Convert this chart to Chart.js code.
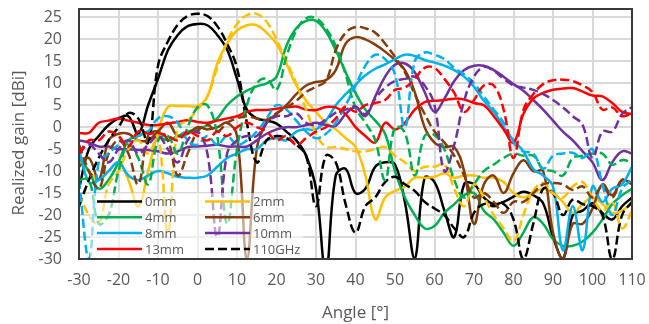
<!DOCTYPE html>
<html>
<head>
<meta charset="utf-8">
<script src="https://cdn.jsdelivr.net/npm/chart.js@4.4.1/dist/chart.umd.min.js"></script>
<style>
  html, body { margin: 0; padding: 0; background: #fff; }
  canvas { display: block; }
</style>
</head>
<body>
<canvas id="gainChart" width="649" height="324"></canvas>
<script>
// angles in degrees (x axis)
const angles = [-30, -27.5, -25, -22.5, -20, -17.5, -15, -12.5, -10, -7.5,
  -5, -2.5, 0, 2.5, 5, 7.5, 10, 12.5, 15, 17.5,
  20, 22.5, 25, 27.5, 30, 32.5, 35, 37.5, 40, 42.5,
  45, 47.5, 50, 52.5, 55, 57.5, 60, 62.5, 65, 67.5,
  70, 72.5, 75, 77.5, 80, 82.5, 85, 87.5, 90, 92.5,
  95, 97.5, 100, 102.5, 105, 107.5, 110];

// realized gain [dBi], solid = design frequency, *_110 = 110GHz (dashed)
const gain0mm = [-14, -5, -2, 0.5, 2, 2.5, -1.5, 5, 11, 17.5,
  21, 23, 23.5, 23.2, 21, 17.6, 11, 4, 2, 1.5,
  0.8, -1, -3, -6.5, -14, -33, -11, -9.5, -15, -14,
  -9, -8, -8.5, -17, -30, -11.5, -12.5, -19, -25, -13,
  -13, -16, -17.5, -17, -15.8, -14.7, -15.5, -17.3, -25, -30,
  -20, -19, -17.3, -19.5, -21, -18, -16];
const gain0mm_110 = [-18, -12, -7, -3, 0, 3.2, 2, -3.5, 14, 19.5,
  23.3, 25.3, 25.8, 25.3, 23, 19, 13.5, 1, -8, -3,
  -2, -2.5, -4, -6.5, -18, -6.5, -8, -17.5, -24, -18,
  -16, -12.5, -11.3, -13, -14.5, -17, -18.5, -20, -23, -25,
  -19.5, -17.5, -18, -17.5, -21, -30, -22, -14, -15, -20,
  -16.5, -17.5, -18, -20, -30, -20, -17];

const gain2mm = [-8, -10, -12, -10, -8, -12, -18, -10, -1, 4.6,
  4.8, 4.8, 4.8, 7, 14.5, 19, 22, 23.2, 23.2, 21.5,
  19, 14.5, 9.5, 6, 3.5, 1, -0.5, -2.5, -4.5, -11,
  -21, -16, -14.5, -13.5, -11.5, -11.5, -11.3, -10.5, -11.5, -11,
  -11, -11.5, -11.5, -12.5, -15, -16, -15, -14, -15, -17,
  -19.5, -17.5, -16, -17.5, -19.5, -19, -17];
const gain2mm_110 = [-15, -20, -22, -13, -10, -5, -3, -6, -2, -24,
  0, 1.5, 4, 7, 13.5, 19.5, 23.5, 25.5, 25.8, 24,
  20, 15, 10, 4, -1.5, -4.5, -4.5, -5, -5.5, -5.5,
  -5, -4.5, -6.5, -8, -10, -9, -9, -8.5, -14, -18,
  -13, -16, -20, -23, -26, -20, -14.5, -12.7, -15, -16,
  -13.5, -12.5, -16, -19, -17, -23, -19];

const gain4mm = [-7, -10, -14, -12, -8, -3, -2, -1, -2, -3,
  -2, -1, -0.5, 0.5, 2, 5, 7, 8.3, 9.3, 10,
  11.5, 18.5, 22.5, 24.2, 24.2, 21.8, 17.5, 12.5, 7.8, 4,
  1.5, -1.5, -10, -16, -20, -23, -22.5, -19.5, -17.5, -15.5,
  -15, -19, -21, -24, -27, -24, -20.5, -22, -25.5, -27,
  -27, -26, -24, -21, -17.5, -15.5, -14];
const gain4mm_110 = [-12, -12, -22, -20, -10, -4, -7, -13, -3, -2,
  -6, 0, 4.5, 5, -2, -22, -5, 5, 10, 11,
  8.5, 16, 22, 24.8, 24.8, 22.5, 18.5, 12, 4.5, 1,
  -3, -12, 0, -1.3, -11, -2, -1.8, -5, -12, -16,
  -13, -10, -8.5, -7, -6, -6.5, -6.5, -9.5, -10, -11,
  -7, -6.5, -6, -6, -8.5, -7.5, -8];

const gain6mm = [-9, -7, -12, -3, -1.5, -1.5, -3, -3, -1, 1,
  -2, -1.5, 0, -0.5, 0, 1, -2, -30, -5, 1,
  3, 5, 7.5, 9.5, 10.3, 10.7, 13, 19, 20.5, 20,
  18.8, 17.2, 15.3, 13, 8, 0, -3.5, -4.5, -4.5, -10,
  -22, -13, -11, -15, -10.5, -7.5, -10, -10, -24, -30,
  -22, -22, -18.5, -13, -15.5, -12, -13];
const gain6mm_110 = [-4, -10, -14, -6, -3, -6, -13, -2, -1, -3,
  -11, -6, -1, 0.5, -1, 1, 2, 2.5, 2, 1.7,
  3.2, 4.5, 6, 8, 9.2, 10.5, 17.5, 21.5, 22.8, 22.5,
  21.5, 19, 16, 12.5, 7.5, 3, -1, -3.5, -6.5, -11,
  -16, -15, -17, -19.5, -17, -17, -15, -13, -12.7, -13,
  -14.3, -13.5, -16, -13.5, -16, -12, -12.7];

const gain8mm = [-5, -12.5, -12, -10, -8, -11, -12, -11, -10, -10.5,
  -11.3, -11.5, -11.5, -11, -9, -7, -6, -5, -5, -3,
  -2.5, -3, -1, -0.5, -0.5, 1.5, 5, 7.5, 9.7, 11.8,
  13.3, 14.3, 15.5, 16.5, 16.2, 15.3, 14.7, 14, 13, 11.5,
  9.2, 6, 3.5, 0, -3, -5.5, -9.5, -11, -13.5, -28,
  -18, -28, -13.5, -17, -14, -13, -9];
const gain8mm_110 = [-12, -30, -8, -6, -4, -3, -2, -1, 2, 2.5,
  1, -3, -4, -2, -4, -2, -4, -3, -1, 2,
  5, 4, 1.5, -1, -2.5, -1.5, 1, 5, 9.5, 14,
  16.5, 15.5, 12, 0, 15, 17, 16.5, 15.5, 13.5, 12,
  10, 7, 4, 1, -3.5, -5.5, -6, -9.5, -6.5, -6,
  -5.8, -7, -5, -13, -20, -14, -12];

const gain10mm = [-3, -3.5, -4.4, -4.4, -5, -5, -5.2, -5.2, -5.5, -6,
  -5.5, -4.5, -4.4, -4.2, -4, -4.4, -4.4, -4.4, -3, -1.5,
  -0.5, 0, 0, 0.5, 1, 0.5, 0.3, 3, 4.5, 2.5,
  7, 11.5, 14.2, 14.5, 12.5, 8, 3.5, 6.5, 10.5, 13,
  14, 14, 13, 11.5, 9.8, 8.3, 6.2, 4, 1.5, -1,
  -3, -5.5, -8, -12, -8, -5.5, -6];
const gain10mm_110 = [-6, -4, -6, -8, -5, -3, -6, -4, -2, -5,
  -8, -3, -1, -6, -25, -6, -3, -2, -2, 1,
  2.5, 2.5, 3.2, 1, 0.5, 1.7, 3.3, 4, 4.7, 3,
  6.5, 9, 10.5, 11, 11.5, 9.5, 5, -10, -4, 6,
  11.5, 13.7, 12.8, 11, 9.5, 9, 8.5, 7.5, 6.2, 4.5,
  2.5, 0.5, -7, -1, -1, 3, 4.6];

const gain13mm = [-1.3, -1.3, 1, 1.5, 2, 1.5, 1, 0.5, 0.5, 0.8,
  1.2, 1.6, 1.2, 1, 1.5, 2, 2.5, 3.5, 3.9, 3.9,
  4.2, 4.5, 4.7, 4, 3.9, 4.6, 4.5, 3, 0, -2,
  -3.5, 1, -0.5, 1, 4, 5.7, 6, 6.2, 6.5, 6.3,
  5.5, 5, 2.5, -0.5, -3.5, 3, 6.5, 7.8, 8.5, 8.8,
  8.9, 8.1, 7.2, 7, 5.5, 3.5, 3];
const gain13mm_110 = [-6, -3, -3, -1, -2, -4.4, -1, -1.5, -1.3, -2,
  -3, -1, -2, -3, -1, -2, 0, 1, 0, -1,
  -3, -2, -4, -2.5, -1, 0, 2, 4.7, 3.5, 5,
  5.5, 6.2, 8.5, 9, 11, 13.5, 13.5, 11, 7.8, 3.5,
  6.2, 9.5, 9.5, 4, -7, 3.9, 7.5, 9.8, 10.7, 10.8,
  10.5, 9.5, 8, 4, 4.5, 2.5, 3.2];

const seriesNames = ['0mm', '2mm', '4mm', '6mm', '8mm', '10mm', '13mm'];
const seriesColors = ['#000000', '#FFC000', '#00B050', '#843C0C', '#00B0F0', '#7030A0', '#FF0000'];
const solidSeries = [gain0mm, gain2mm, gain4mm, gain6mm, gain8mm, gain10mm, gain13mm];
const dashedSeries = [gain0mm_110, gain2mm_110, gain4mm_110, gain6mm_110, gain8mm_110, gain10mm_110, gain13mm_110];
const dashedLabel = '110GHz';

const FONT = "'Open Sans', 'Noto Sans', sans-serif";
const TEXT = '#595959';
const DASH = [9, 4];

function toPoints(vals) {
  return angles.map((a, i) => ({ x: a, y: vals[i] }));
}

const datasets = [];
solidSeries.forEach((vals, i) => {
  datasets.push({ label: seriesNames[i], data: toPoints(vals), borderColor: seriesColors[i], borderDash: [] });
});
dashedSeries.forEach((vals, i) => {
  datasets.push({ label: seriesNames[i] + ' ' + dashedLabel, data: toPoints(vals), borderColor: seriesColors[i], borderDash: DASH });
});
// later series drawn on top (like Excel)
datasets.forEach((ds, i) => {
  ds.order = datasets.length - i;
  ds.borderWidth = 2.5;
  ds.pointRadius = 0;
  ds.tension = 0.4;
  ds.fill = false;
  ds.clip = 0;
});

// legend inside the plot area, plot border, y axis title
const insideLegend = {
  id: 'insideLegend',
  afterDatasetsDraw(chart) {
    const ctx = chart.ctx;
    const a = chart.chartArea;
    ctx.save();

    // faded box behind the legend
    ctx.fillStyle = 'rgba(255,255,255,0.55)';
    ctx.fillRect(a.left + 11, a.bottom - 66, 213, 65);

    const items = seriesNames.map((n, i) => ({ text: n, color: seriesColors[i], dash: [] }));
    items.push({ text: dashedLabel, color: '#000000', dash: DASH });

    ctx.font = '13px ' + FONT;
    ctx.textBaseline = 'middle';
    ctx.textAlign = 'left';
    items.forEach((it, k) => {
      const col = k % 2;
      const row = Math.floor(k / 2);
      const x0 = a.left + 18 + col * 108;
      const y = a.bottom - 57.5 + row * 15.8;
      ctx.strokeStyle = it.color;
      ctx.lineWidth = 2.5;
      ctx.setLineDash(it.dash);
      ctx.beginPath();
      ctx.moveTo(x0, y);
      ctx.lineTo(x0 + 45, y);
      ctx.stroke();
      ctx.setLineDash([]);
      ctx.fillStyle = TEXT;
      ctx.fillText(it.text, x0 + 48, y + 1);
    });

    // plot area border
    ctx.strokeStyle = '#3a3a3a';
    ctx.lineWidth = 2;
    ctx.strokeRect(a.left, a.top, a.right - a.left, a.bottom - a.top);

    // y title (sits a bit below the plot centre in the original)
    ctx.translate(19, (a.top + a.bottom) / 2 + 9);
    ctx.rotate(-Math.PI / 2);
    ctx.font = '17px ' + FONT;
    ctx.textAlign = 'center';
    ctx.fillStyle = TEXT;
    ctx.fillText('Realized gain [dBi]', 0, 0);
    ctx.restore();
  }
};

new Chart(document.getElementById('gainChart'), {
  type: 'line',
  data: { datasets: datasets },
  options: {
    responsive: false,
    animation: false,
    devicePixelRatio: 1,
    layout: { padding: { top: 9, right: 17, left: 0, bottom: 0 } },
    plugins: {
      legend: { display: false },
      tooltip: { enabled: false }
    },
    scales: {
      x: {
        type: 'linear',
        min: -30,
        max: 110,
        ticks: { stepSize: 10, color: TEXT, font: { family: FONT, size: 16 }, padding: 12, maxRotation: 0, autoSkip: false },
        grid: { color: '#d9d9d9', lineWidth: 2, drawTicks: false },
        border: { display: false },
        title: { display: true, text: 'Angle [°]', color: TEXT, font: { family: FONT, size: 17 }, padding: { top: 0, bottom: 1 } },
        afterFit(scale) {
          scale.height = 65;
          scale.paddingLeft = 0;
          scale.paddingRight = 0;
        }
      },
      y: {
        type: 'linear',
        min: -30,
        max: 26.9,
        ticks: { stepSize: 5, includeBounds: false, autoSkip: false, color: TEXT, font: { family: FONT, size: 16 }, padding: 17 },
        grid: { color: '#d9d9d9', lineWidth: 2, drawTicks: false },
        border: { display: false },
        afterFit(scale) {
          scale.width = 79;
          scale.paddingTop = 0;
          scale.paddingBottom = 0;
        }
      }
    }
  },
  plugins: [insideLegend]
});
</script>
</body>
</html>
